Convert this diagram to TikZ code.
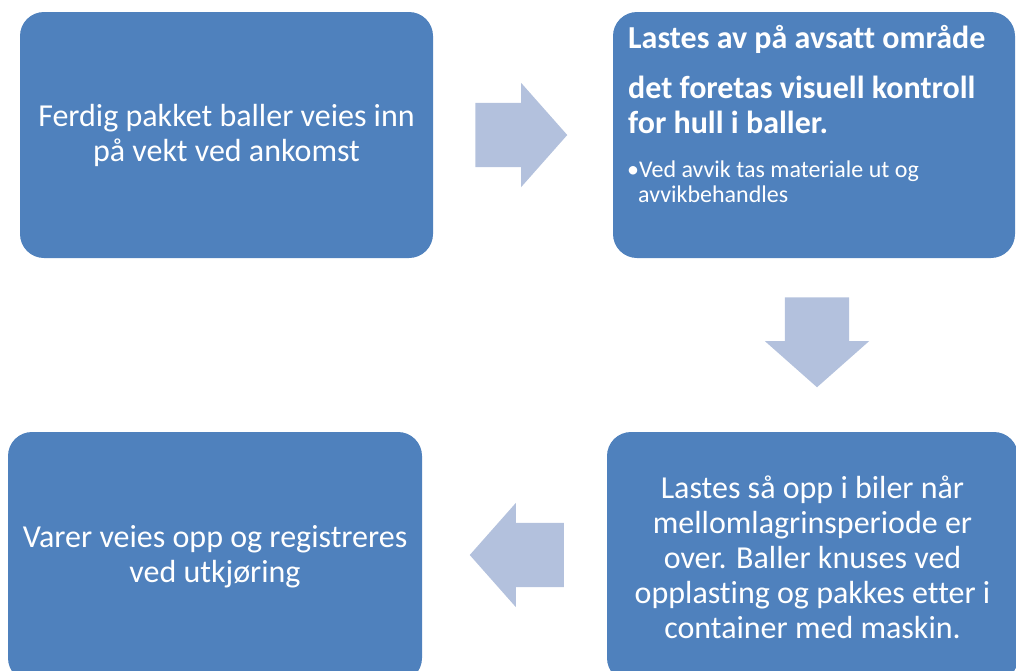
\documentclass[tikz,border=0pt]{standalone}
\usepackage{fontspec}
\setmainfont{Carlito}[Ligatures=NoCommon]
\usetikzlibrary{shapes.arrows}

\definecolor{boxblue}{HTML}{4F81BD}
\definecolor{arrowblue}{HTML}{B3C1DD}

\begin{document}
\begin{tikzpicture}[
    x=1pt,
    y=-1pt,
    font=\fontsize{32}{35}\selectfont,
    text=white,
    stepbox/.style={
      rectangle,
      fill=boxblue,
      rounded corners=24pt,
      align=center,
      inner sep=0,
      outer sep=0
    },
    flow/.style={
      single arrow,
      fill=arrowblue,
      draw=none,
      inner xsep=0,
      inner ysep=32pt,
      outer sep=0,
      single arrow head extend=20pt,
      single arrow tip angle=97,
      minimum width=104pt
    }
  ]

  \useasboundingbox (0,0) rectangle (1016,670);
  \clip (0,0) rectangle (1016,670);

  \node [stepbox, minimum width=413pt, minimum height=246pt] (weigh) at (226.5,135)
    {Ferdig pakket baller veies inn\\på vekt ved ankomst};

  \node [stepbox, minimum width=402pt, minimum height=246pt] (unload) at (814,135) {};
  \node [anchor=north west, inner sep=0, align=left, font=\fontsize{32}{35}\selectfont\bfseries] (unloadtitle) at (628,25)
    {Lastes av på avsatt område\\[15pt]det foretas visuell kontroll\\for hull i baller.};
  \node [anchor=north west, inner sep=0, align=left, font=\fontsize{24}{25}\selectfont] (unloadnote) at (627,161)
    {•Ved avvik tas materiale ut og\\\hspace*{11pt}avvikbehandles};

  \node [stepbox, minimum width=411pt, minimum height=250pt] (load) at (812.5,557)
    {Lastes så opp i biler når\\mellomlagrinsperiode er\\over. Baller knuses ved\\opplasting og pakkes etter i\\container med maskin.};

  \node [stepbox, minimum width=414pt, minimum height=250pt] (out) at (215,557)
    {Varer veies opp og registreres\\ved utkjøring};

  % block arrows between the steps
  \node [flow, minimum height=92pt] (a1) at (507,135) {};
  \node [flow, minimum height=90pt, rotate=-90] (a2) at (817,328) {};
  \node [flow, minimum height=94pt, rotate=180] (a3) at (531,555) {};

\end{tikzpicture}
\end{document}
